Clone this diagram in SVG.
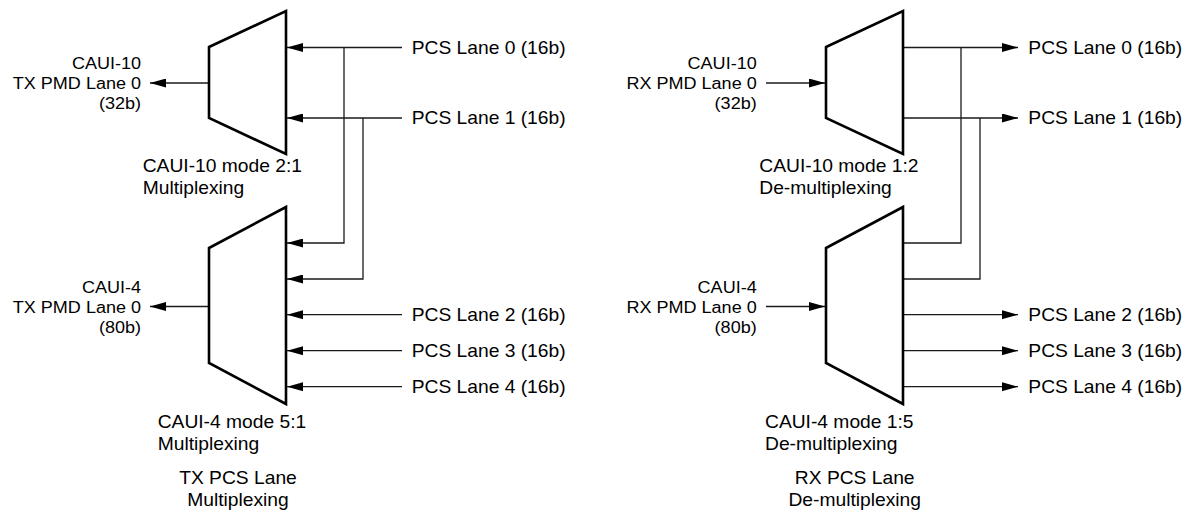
<svg xmlns="http://www.w3.org/2000/svg" width="1194" height="510" viewBox="0 0 1194 510">
<style>
.mux{fill:#fff;stroke:#000;stroke-width:2.6;stroke-linejoin:miter}
.ln{fill:none;stroke:#1a1a1a;stroke-width:1.3}
.t{font-family:"Liberation Sans",Arial,sans-serif;font-size:17.5px;fill:#000}
.p{font-family:"Liberation Sans",Arial,sans-serif;font-size:16.4px;fill:#000;text-anchor:end}
.c{text-anchor:middle}
</style>
<defs>
<marker id="ah" viewBox="0 0 16 9" refX="16" refY="4.5" markerWidth="16" markerHeight="9" markerUnits="userSpaceOnUse" orient="auto"><path d="M0,0 L16,4.5 L0,9 z" fill="#000"/></marker>
</defs>
<g id="connectors">
<path class="ln" d="M209,83 H150" marker-end="url(#ah)"/>
<path class="ln" d="M209,306.5 H150" marker-end="url(#ah)"/>
<path class="ln" d="M402,47.5 H287" marker-end="url(#ah)"/>
<path class="ln" d="M402,118 H287" marker-end="url(#ah)"/>
<path class="ln" d="M344,47.5 V243 H287" marker-end="url(#ah)"/>
<path class="ln" d="M363,118 V279 H287" marker-end="url(#ah)"/>
<path class="ln" d="M402,314.7 H287" marker-end="url(#ah)"/>
<path class="ln" d="M402,350.7 H287" marker-end="url(#ah)"/>
<path class="ln" d="M402,386.7 H287" marker-end="url(#ah)"/>
<path class="ln" d="M766,83 H825" marker-end="url(#ah)"/>
<path class="ln" d="M766,306.5 H825" marker-end="url(#ah)"/>
<path class="ln" d="M903,47.5 H1018" marker-end="url(#ah)"/>
<path class="ln" d="M903,118 H1018" marker-end="url(#ah)"/>
<path class="ln" d="M961,47.5 V243 H903"/>
<path class="ln" d="M980,118 V279 H903"/>
<path class="ln" d="M903,314.7 H1018" marker-end="url(#ah)"/>
<path class="ln" d="M903,350.7 H1018" marker-end="url(#ah)"/>
<path class="ln" d="M903,386.7 H1018" marker-end="url(#ah)"/>
</g>
<g id="tx-mux-caui10">
<polygon class="mux" points="209,47 286,11 286,154 209,118"/>
<g transform="scale(1.1,1)">
<text class="t" x="129.73" y="172">CAUI-10 mode 2:1</text>
<text class="t" x="129.73" y="194.3">Multiplexing</text>
</g>
</g>
<g id="tx-mux-caui4">
<polygon class="mux" points="209,248 286,207 286,404 209,363"/>
<g transform="scale(1.1,1)">
<text class="t" x="143.36" y="428">CAUI-4 mode 5:1</text>
<text class="t" x="143.36" y="450">Multiplexing</text>
</g>
</g>
<g id="tx-pmd-labels" transform="scale(1.1,1)">
<text class="p" x="128.18" y="68.6">CAUI-10</text>
<text class="p" x="128.18" y="88.6">TX PMD Lane 0</text>
<text class="p" x="128.18" y="108.6">(32b)</text>
<text class="p" x="128.18" y="293.2">CAUI-4</text>
<text class="p" x="128.18" y="313.2">TX PMD Lane 0</text>
<text class="p" x="128.18" y="333.2">(80b)</text>
</g>
<g id="tx-pcs-labels" transform="scale(1.1,1)">
<text class="t" x="374.27" y="53.8">PCS Lane 0 (16b)</text>
<text class="t" x="374.27" y="124.3">PCS Lane 1 (16b)</text>
<text class="t" x="374.27" y="321">PCS Lane 2 (16b)</text>
<text class="t" x="374.27" y="357">PCS Lane 3 (16b)</text>
<text class="t" x="374.27" y="393">PCS Lane 4 (16b)</text>
</g>
<g id="tx-title" transform="scale(1.1,1)">
<text class="t c" x="216.36" y="484.5">TX PCS Lane</text>
<text class="t c" x="216.36" y="506.5">Multiplexing</text>
</g>
<g id="rx-mux-caui10">
<polygon class="mux" points="826,47 903,11 903,154 826,118"/>
<g transform="scale(1.1,1)">
<text class="t" x="690.27" y="172">CAUI-10 mode 1:2</text>
<text class="t" x="690.27" y="194.3">De-multiplexing</text>
</g>
</g>
<g id="rx-mux-caui4">
<polygon class="mux" points="826,248 903,207 903,404 826,363"/>
<g transform="scale(1.1,1)">
<text class="t" x="695.45" y="428">CAUI-4 mode 1:5</text>
<text class="t" x="695.45" y="450">De-multiplexing</text>
</g>
</g>
<g id="rx-pmd-labels" transform="scale(1.1,1)">
<text class="p" x="687.91" y="68.6">CAUI-10</text>
<text class="p" x="687.91" y="88.6">RX PMD Lane 0</text>
<text class="p" x="687.91" y="108.6">(32b)</text>
<text class="p" x="687.91" y="293.2">CAUI-4</text>
<text class="p" x="687.91" y="313.2">RX PMD Lane 0</text>
<text class="p" x="687.91" y="333.2">(80b)</text>
</g>
<g id="rx-pcs-labels" transform="scale(1.1,1)">
<text class="t" x="934.82" y="53.8">PCS Lane 0 (16b)</text>
<text class="t" x="934.82" y="124.3">PCS Lane 1 (16b)</text>
<text class="t" x="934.82" y="321">PCS Lane 2 (16b)</text>
<text class="t" x="934.82" y="357">PCS Lane 3 (16b)</text>
<text class="t" x="934.82" y="393">PCS Lane 4 (16b)</text>
</g>
<g id="rx-title" transform="scale(1.1,1)">
<text class="t c" x="777" y="484.5">RX PCS Lane</text>
<text class="t c" x="777" y="506.5">De-multiplexing</text>
</g>
</svg>
